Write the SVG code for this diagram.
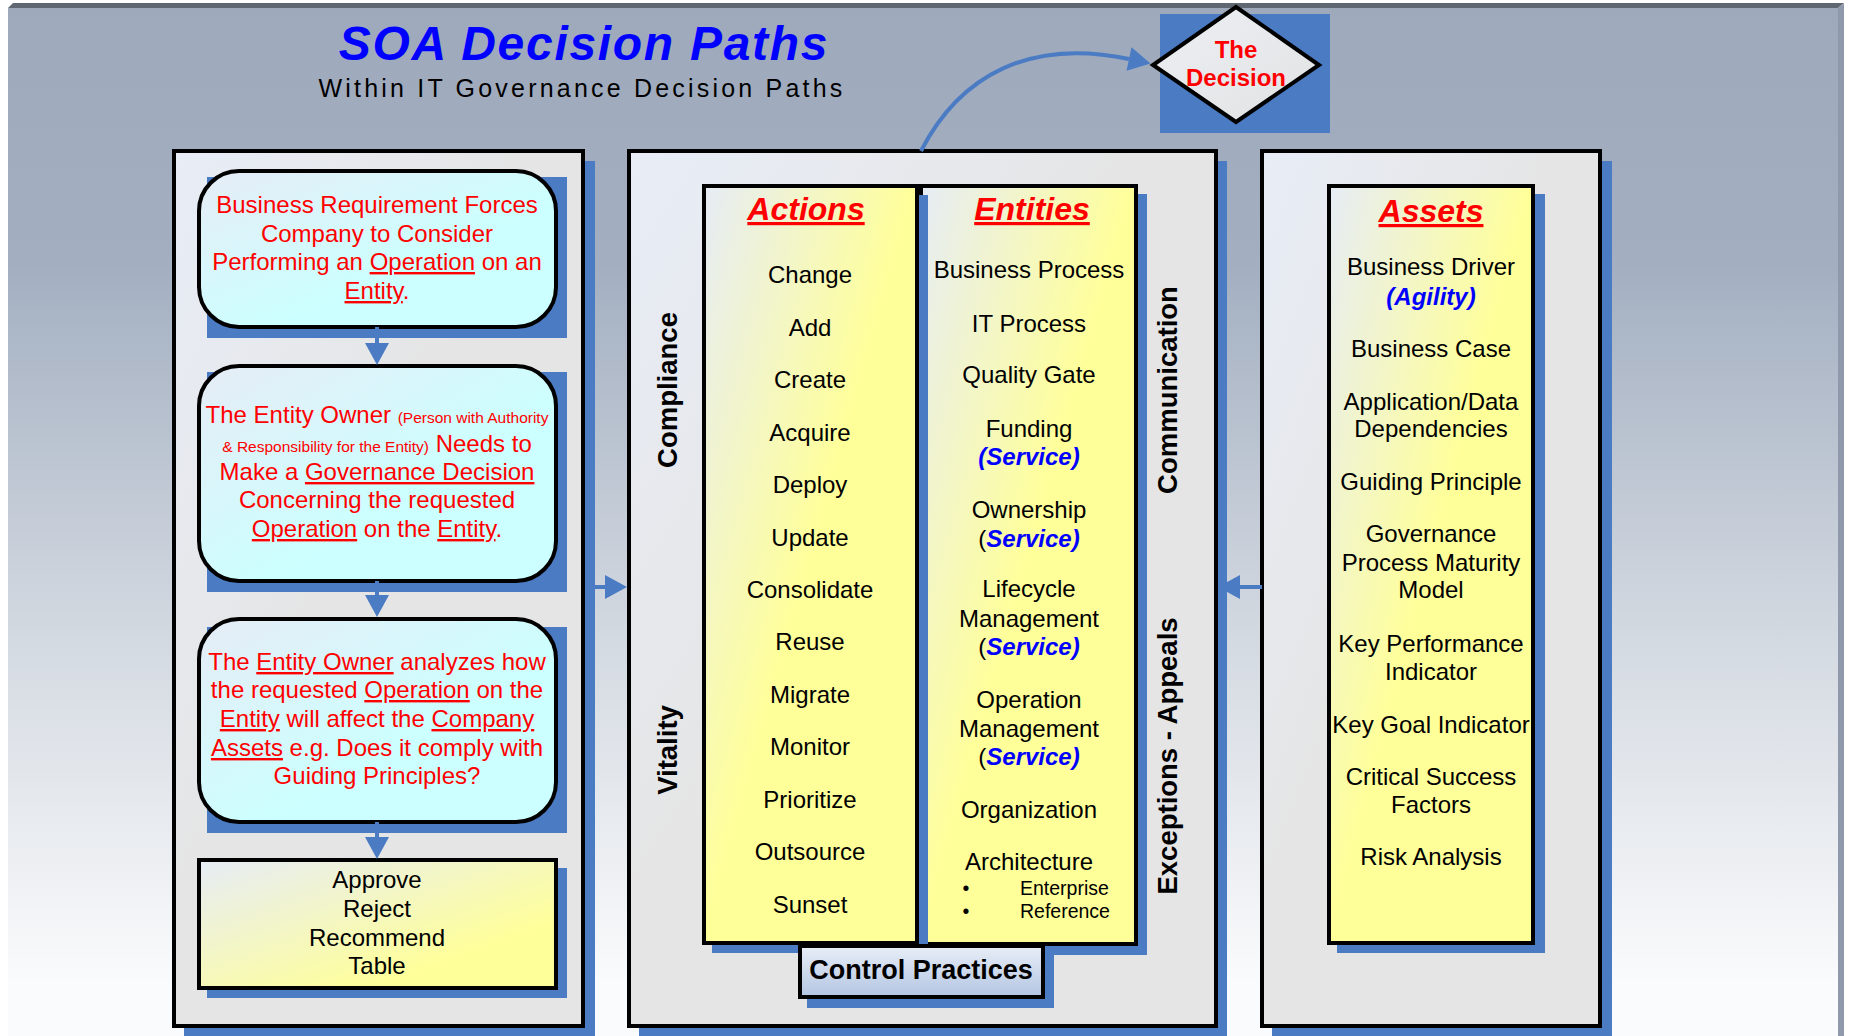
<svg xmlns="http://www.w3.org/2000/svg" width="1849" height="1036" viewBox="0 0 1849 1036">
<defs>
<linearGradient id="bg" x1="0" y1="0" x2="0" y2="1">
<stop offset="0" stop-color="#9eaabc"/>
<stop offset="0.25" stop-color="#a3afc1"/>
<stop offset="0.6" stop-color="#d2d8e0"/>
<stop offset="0.95" stop-color="#fafbfc"/>
</linearGradient>
<linearGradient id="panel" x1="0" y1="0" x2="1" y2="1">
<stop offset="0" stop-color="#e8edf6"/>
<stop offset="0.45" stop-color="#e5e5e5"/>
<stop offset="1" stop-color="#e5e5e5"/>
</linearGradient>
<linearGradient id="yel" x1="0" y1="0" x2="1" y2="1">
<stop offset="0" stop-color="#e6ecf6"/>
<stop offset="0.5" stop-color="#ffff99"/>
<stop offset="1" stop-color="#ffff99"/>
</linearGradient>
<linearGradient id="yel2" x1="0" y1="0" x2="1" y2="1">
<stop offset="0" stop-color="#e6ecf6"/>
<stop offset="0.75" stop-color="#ffff99"/>
<stop offset="1" stop-color="#ffff99"/>
</linearGradient>
<linearGradient id="cyan" x1="0" y1="0" x2="1" y2="1">
<stop offset="0" stop-color="#e6ecf6"/>
<stop offset="0.6" stop-color="#ccffff"/>
<stop offset="1" stop-color="#ccffff"/>
</linearGradient>
<linearGradient id="ctrl" x1="0" y1="0" x2="0" y2="1">
<stop offset="0" stop-color="#e8eef7"/>
<stop offset="1" stop-color="#b3c5e2"/>
</linearGradient>
<linearGradient id="dia" x1="0" y1="0" x2="1" y2="1">
<stop offset="0" stop-color="#eceff4"/>
<stop offset="1" stop-color="#e2e2e2"/>
</linearGradient>
<marker id="ah" markerUnits="userSpaceOnUse" markerWidth="24" markerHeight="24" viewBox="0 0 22 24" refX="0" refY="12" orient="auto">
<path d="M0,0 L22,12 L0,24 z" fill="#4a7bc3"/>
</marker>
<style>
text { font-family: "Liberation Sans", Arial, sans-serif; }
.shadow { fill: #4a7bc3; }
.frame { fill: url(#panel); stroke: #000; stroke-width: 4; }
.col { fill: url(#yel); stroke: #000; stroke-width: 4; }
.rbox { fill: url(#cyan); stroke: #000; stroke-width: 4; }
.red { fill: #ff0000; font-size: 24px; text-anchor: middle; }
.sm { font-size: 15.5px; }
.u { text-decoration: underline; }
.item { fill: #000; font-size: 24px; text-anchor: middle; }
.svc { fill: #0000ff; font-weight: bold; font-style: italic; }
.hdr { fill: #ff0000; font-size: 32px; font-weight: bold; font-style: italic; text-decoration: underline; text-anchor: middle; }
.vert { fill: #000; font-size: 27.5px; font-weight: bold; text-anchor: middle; }
.conn { fill: none; stroke: #4a7bc3; stroke-width: 4; }
</style>
</defs>

<!-- slide background -->
<rect x="0" y="0" width="1849" height="1036" fill="#ffffff"/>
<rect x="8" y="8" width="1830" height="1028" fill="url(#bg)"/>
<polygon points="8,8 13,3 1844,3 1838,8" fill="#5f6773"/>
<polygon points="1838,8 1844,3 1844,1036 1838,1036" fill="#8f99ab"/>

<!-- title -->
<g id="title">
<text x="584" y="60" text-anchor="middle" font-size="48" font-weight="bold" font-style="italic" letter-spacing="1.7" fill="#0000ff">SOA Decision Paths</text>
<text x="582" y="97" text-anchor="middle" font-size="25" letter-spacing="3.2" fill="#000">Within IT Governance Decision Paths</text>
</g>

<!-- The Decision -->
<g id="decision">
<rect x="1160" y="14" width="170" height="119" fill="#4a7bc3"/>
<polygon points="1236,7 1319,65 1236,122 1153,65" fill="url(#dia)" stroke="#000" stroke-width="4" stroke-linejoin="miter"/>
<text x="1236" y="58" text-anchor="middle" font-size="24" font-weight="bold" fill="#ff0000">The</text>
<text x="1236" y="86" text-anchor="middle" font-size="24" font-weight="bold" fill="#ff0000">Decision</text>
</g>

<!-- left panel -->
<g id="left-panel">
<rect class="shadow" x="184" y="161" width="411" height="875"/>
<rect class="frame" x="174" y="151" width="409" height="875"/>
</g>

<g id="box-requirement">
<rect class="shadow" x="207" y="177" width="360" height="161"/>
<rect class="rbox" x="199" y="171" width="357" height="156" rx="40" ry="40"/>
<text class="red" x="377" y="213">Business Requirement Forces</text>
<text class="red" x="377" y="242">Company to Consider</text>
<text class="red" x="377" y="270">Performing an <tspan class="u">Operation</tspan> on an</text>
<text class="red" x="377" y="299"><tspan class="u">Entity</tspan>.</text>
</g>

<g id="box-owner">
<rect class="shadow" x="207" y="372" width="360" height="220"/>
<rect class="rbox" x="199" y="366" width="357" height="215" rx="40" ry="40"/>
<text class="red" x="377" y="423">The Entity Owner <tspan class="sm">(Person with Authority</tspan></text>
<text class="red" x="377" y="452"><tspan class="sm">&amp; Responsibility for the Entity)</tspan> Needs to</text>
<text class="red" x="377" y="480">Make a <tspan class="u">Governance Decision</tspan></text>
<text class="red" x="377" y="508">Concerning the requested</text>
<text class="red" x="377" y="537"><tspan class="u">Operation</tspan> on the <tspan class="u">Entity</tspan>.</text>
</g>

<g id="box-analyze">
<rect class="shadow" x="207" y="627" width="360" height="206"/>
<rect class="rbox" x="199" y="619" width="357" height="203" rx="40" ry="40"/>
<text class="red" x="377" y="670">The <tspan class="u">Entity Owner</tspan> analyzes how</text>
<text class="red" x="377" y="698">the requested <tspan class="u">Operation</tspan> on the</text>
<text class="red" x="377" y="727"><tspan class="u">Entity</tspan> will affect the <tspan class="u">Company</tspan></text>
<text class="red" x="377" y="756"><tspan class="u">Assets</tspan> e.g. Does it comply with</text>
<text class="red" x="377" y="784">Guiding Principles?</text>
</g>

<g id="box-result">
<rect class="shadow" x="207" y="868" width="360" height="130"/>
<rect x="199" y="860" width="357" height="128" fill="url(#yel2)" stroke="#000" stroke-width="4"/>
<text class="item" x="377" y="888">Approve</text>
<text class="item" x="377" y="917">Reject</text>
<text class="item" x="377" y="946">Recommend</text>
<text class="item" x="377" y="974">Table</text>
</g>

<!-- center panel -->
<g id="center-panel">
<rect class="shadow" x="639" y="161" width="588" height="875"/>
<rect class="frame" x="629" y="151" width="587" height="875"/>
<text class="vert" transform="translate(677,390) rotate(-90)">Compliance</text>
<text class="vert" transform="translate(677,750) rotate(-90)">Vitality</text>
<text class="vert" transform="translate(1177,390) rotate(-90)">Communication</text>
<text class="vert" transform="translate(1177,756) rotate(-90)">Exceptions - Appeals</text>
</g>

<g id="entities">
<rect class="shadow" x="931" y="194" width="216" height="761"/>
<rect class="col" x="921" y="186" width="215" height="758"/>
<text class="hdr" x="1032" y="220">Entities</text>
<text class="item" x="1029" y="278">Business Process</text>
<text class="item" x="1029" y="332">IT Process</text>
<text class="item" x="1029" y="383">Quality Gate</text>
<text class="item" x="1029" y="437">Funding</text>
<text class="item svc" x="1029" y="465">(Service)</text>
<text class="item" x="1029" y="518">Ownership</text>
<text class="item" x="1029" y="547">(<tspan class="svc">Service)</tspan></text>
<text class="item" x="1029" y="597">Lifecycle</text>
<text class="item" x="1029" y="627">Management</text>
<text class="item" x="1029" y="655">(<tspan class="svc">Service)</tspan></text>
<text class="item" x="1029" y="708">Operation</text>
<text class="item" x="1029" y="737">Management</text>
<text class="item" x="1029" y="765">(<tspan class="svc">Service)</tspan></text>
<text class="item" x="1029" y="818">Organization</text>
<text class="item" x="1029" y="870">Architecture</text>
<text x="966" y="895" font-size="19.5" text-anchor="middle">•</text>
<text x="1020" y="895" font-size="19.5">Enterprise</text>
<text x="966" y="918" font-size="19.5" text-anchor="middle">•</text>
<text x="1020" y="918" font-size="19.5">Reference</text>
</g>

<g id="actions">
<rect class="shadow" x="712" y="195" width="216" height="758"/>
<rect class="col" x="704" y="186" width="213" height="757"/>
<text class="hdr" x="806" y="220">Actions</text>
<text class="item" x="810" y="283">Change</text>
<text class="item" x="810" y="336">Add</text>
<text class="item" x="810" y="388">Create</text>
<text class="item" x="810" y="441">Acquire</text>
<text class="item" x="810" y="493">Deploy</text>
<text class="item" x="810" y="546">Update</text>
<text class="item" x="810" y="598">Consolidate</text>
<text class="item" x="810" y="650">Reuse</text>
<text class="item" x="810" y="703">Migrate</text>
<text class="item" x="810" y="755">Monitor</text>
<text class="item" x="810" y="808">Prioritize</text>
<text class="item" x="810" y="860">Outsource</text>
<text class="item" x="810" y="913">Sunset</text>
</g>

<g id="control-practices">
<rect class="shadow" x="807" y="954" width="247" height="54"/>
<rect x="800" y="946" width="243" height="51" fill="url(#ctrl)" stroke="#000" stroke-width="4"/>
<text x="921" y="979" text-anchor="middle" font-size="27" font-weight="bold" fill="#000">Control Practices</text>
</g>

<!-- right panel -->
<g id="right-panel">
<rect class="shadow" x="1272" y="161" width="340" height="875"/>
<rect class="frame" x="1262" y="151" width="338" height="875"/>
</g>

<g id="assets">
<rect class="shadow" x="1337" y="194" width="208" height="759"/>
<rect class="col" x="1329" y="186" width="204" height="757"/>
<text class="hdr" x="1431" y="222">Assets</text>
<text class="item" x="1431" y="275">Business Driver</text>
<text class="item svc" x="1431" y="305">(Agility)</text>
<text class="item" x="1431" y="357">Business Case</text>
<text class="item" x="1431" y="410">Application/Data</text>
<text class="item" x="1431" y="437">Dependencies</text>
<text class="item" x="1431" y="490">Guiding Principle</text>
<text class="item" x="1431" y="542">Governance</text>
<text class="item" x="1431" y="571">Process Maturity</text>
<text class="item" x="1431" y="598">Model</text>
<text class="item" x="1431" y="652">Key Performance</text>
<text class="item" x="1431" y="680">Indicator</text>
<text class="item" x="1431" y="733">Key Goal Indicator</text>
<text class="item" x="1431" y="785">Critical Success</text>
<text class="item" x="1431" y="813">Factors</text>
<text class="item" x="1431" y="865">Risk Analysis</text>
</g>

<!-- connectors -->
<g id="connectors">
<path class="conn" d="M377,327 V343" marker-end="url(#ah)"/>
<path class="conn" d="M377,581 V595" marker-end="url(#ah)"/>
<path class="conn" d="M377,822 V837" marker-end="url(#ah)"/>
<path class="conn" d="M594,587 H605" marker-end="url(#ah)"/>
<path class="conn" d="M1262,587 H1240" marker-end="url(#ah)"/>
<path class="conn" d="M921,151 C960,75 1030,38 1129,59" marker-end="url(#ah)"/>
</g>
</svg>
